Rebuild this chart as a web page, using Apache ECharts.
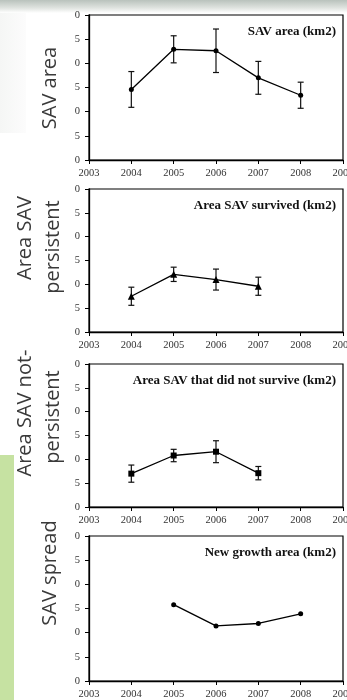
<!DOCTYPE html>
<html>
<head>
<meta charset="utf-8">
<script src="https://cdn.jsdelivr.net/npm/echarts@6/dist/echarts.min.js"></script>
<style>
  html, body { margin: 0; padding: 0; background: #fff; }
  #main { width: 347px; height: 700px; }
</style>
</head>
<body>
<div id="main"></div>
<script>
// values (km2)
const yearTicks = [2003, 2004, 2005, 2006, 2007, 2008, 2009];

const areaYears = [2004, 2005, 2006, 2007, 2008];
const areaMean = [14.6, 22.9, 22.6, 17.0, 13.4];
const areaErr = [3.7, 2.8, 4.5, 3.4, 2.7];

const survYears = [2004, 2005, 2006, 2007];
const survMean = [7.5, 12.1, 11.0, 9.6];
const survErr = [1.9, 1.5, 2.2, 1.9];

const lostYears = [2004, 2005, 2006, 2007];
const lostMean = [7.0, 10.8, 11.6, 7.1];
const lostErr = [1.8, 1.3, 2.3, 1.4];

const growYears = [2005, 2006, 2007, 2008];
const growMean = [15.8, 11.4, 11.9, 13.9];

const panelTitles = [
  "SAV area (km2)",
  "Area SAV survived (km2)",
  "Area SAV that did not survive (km2)",
  "New growth area (km2)"
];

const grids = [
  { top: 15, height: 145 },
  { top: 189, height: 143 },
  { top: 364, height: 143 },
  { top: 536, height: 145 }
];

const myChart = echarts.init(document.getElementById("main"), null, { renderer: "canvas" });

function pairs(xs, ys) {
  return xs.map((x, i) => [x, ys[i]]);
}
function bars(xs, ys, es) {
  return xs.map((x, i) => [x, ys[i] - es[i], ys[i] + es[i]]);
}

function errorItem(params, api) {
  const lo = api.coord([api.value(0), api.value(1)]);
  const hi = api.coord([api.value(0), api.value(2)]);
  const w = 3;
  const style = { stroke: "#111", lineWidth: 1.2 };
  return {
    type: "group",
    children: [
      { type: "line", shape: { x1: lo[0], y1: lo[1], x2: hi[0], y2: hi[1] }, style },
      { type: "line", shape: { x1: lo[0] - w, y1: lo[1], x2: lo[0] + w, y2: lo[1] }, style },
      { type: "line", shape: { x1: hi[0] - w, y1: hi[1], x2: hi[0] + w, y2: hi[1] }, style }
    ]
  };
}

const serif = "'Liberation Serif', 'Times New Roman', serif";
const sans = "'Open Sans', 'Noto Sans', sans-serif";

function sideText(x, y, text) {
  return {
    type: "text", x: x, y: y, rotation: Math.PI / 2,
    style: { text: text, fontFamily: sans, fontSize: 20, fill: "#3a3a3a", align: "center", verticalAlign: "middle" }
  };
}

const option = {
  animation: false,
  backgroundColor: "#fff",
  grid: grids.map(g => ({
    left: 89, width: 254, top: g.top, height: g.height,
    outerBoundsMode: "none", containLabel: false,
    show: true, borderColor: "#000", borderWidth: 1.2, backgroundColor: "#fff"
  })),
  title: panelTitles.map((t, i) => ({
    text: t, right: 6, top: grids[i].top + 5,
    textStyle: { fontFamily: serif, fontWeight: "bold", fontSize: 13, color: "#111" }
  })),
  xAxis: grids.map((g, i) => ({
    type: "value", gridIndex: i, min: yearTicks[0], max: yearTicks[yearTicks.length - 1], interval: 1,
    axisLine: { show: true, onZero: false, lineStyle: { color: "#000", width: 1.3 } },
    axisTick: { show: true, inside: false, length: 4, lineStyle: { color: "#000" } },
    splitLine: { show: false },
    axisLabel: { show: true, margin: 8, fontFamily: serif, fontSize: 10.5, color: "#333",
      showMinLabel: true, showMaxLabel: true, hideOverlap: false, formatter: v => String(v) }
  })),
  yAxis: grids.map((g, i) => ({
    type: "value", gridIndex: i, min: 0, max: 30, interval: 5,
    axisLine: { show: true, lineStyle: { color: "#000", width: 1.3 } },
    axisTick: { show: true, inside: false, length: 4, lineStyle: { color: "#000" } },
    splitLine: { show: false },
    axisLabel: { margin: 9, fontFamily: serif, fontSize: 10.5, color: "#333",
      formatter: v => String(v).slice(-1) }
  })),
  series: [
    { type: "custom", xAxisIndex: 0, yAxisIndex: 0, renderItem: errorItem, data: bars(areaYears, areaMean, areaErr), z: 3 },
    { type: "line", xAxisIndex: 0, yAxisIndex: 0, data: pairs(areaYears, areaMean), symbol: "circle", symbolSize: 5,
      lineStyle: { color: "#000", width: 1.3 }, itemStyle: { color: "#000" }, z: 4 },

    { type: "custom", xAxisIndex: 1, yAxisIndex: 1, renderItem: errorItem, data: bars(survYears, survMean, survErr), z: 3 },
    { type: "line", xAxisIndex: 1, yAxisIndex: 1, data: pairs(survYears, survMean), symbol: "triangle", symbolSize: 7,
      lineStyle: { color: "#000", width: 1.3 }, itemStyle: { color: "#000" }, z: 4 },

    { type: "custom", xAxisIndex: 2, yAxisIndex: 2, renderItem: errorItem, data: bars(lostYears, lostMean, lostErr), z: 3 },
    { type: "line", xAxisIndex: 2, yAxisIndex: 2, data: pairs(lostYears, lostMean), symbol: "rect", symbolSize: 6,
      lineStyle: { color: "#000", width: 1.3 }, itemStyle: { color: "#000" }, z: 4 },

    { type: "line", xAxisIndex: 3, yAxisIndex: 3, data: pairs(growYears, growMean), symbol: "circle", symbolSize: 5,
      lineStyle: { color: "#000", width: 1.3 }, itemStyle: { color: "#000" }, z: 4 }
  ],
  graphic: [
    // blurred band at the top and green strip on the left
    { type: "rect", left: 0, top: 0, z: -10, shape: { width: 347, height: 13 },
      style: { fill: new echarts.graphic.LinearGradient(0, 0, 0, 1, [
        { offset: 0, color: "#b9c2bc" }, { offset: 0.6, color: "#dfe3df" }, { offset: 1, color: "#ffffff" }]) } },
    { type: "rect", left: 0, top: 13, z: -10, shape: { width: 26, height: 120 },
      style: { fill: new echarts.graphic.LinearGradient(0, 0, 1, 0, [
        { offset: 0, color: "#f5f6f5" }, { offset: 1, color: "#fcfcfc" }]) } },
    { type: "rect", left: 0, top: 455, z: -10, shape: { width: 14, height: 245 },
      style: { fill: "#c6e2a2" } },

    // rotated axis titles
    sideText(50, 88, "SAV area"),
    sideText(25, 238, "Area SAV"),
    sideText(53, 247, "persistent"),
    sideText(25, 413, "Area SAV not-"),
    sideText(53, 417, "persistent"),
    sideText(50, 573, "SAV spread")
  ]
};

myChart.setOption(option);
</script>
</body>
</html>
